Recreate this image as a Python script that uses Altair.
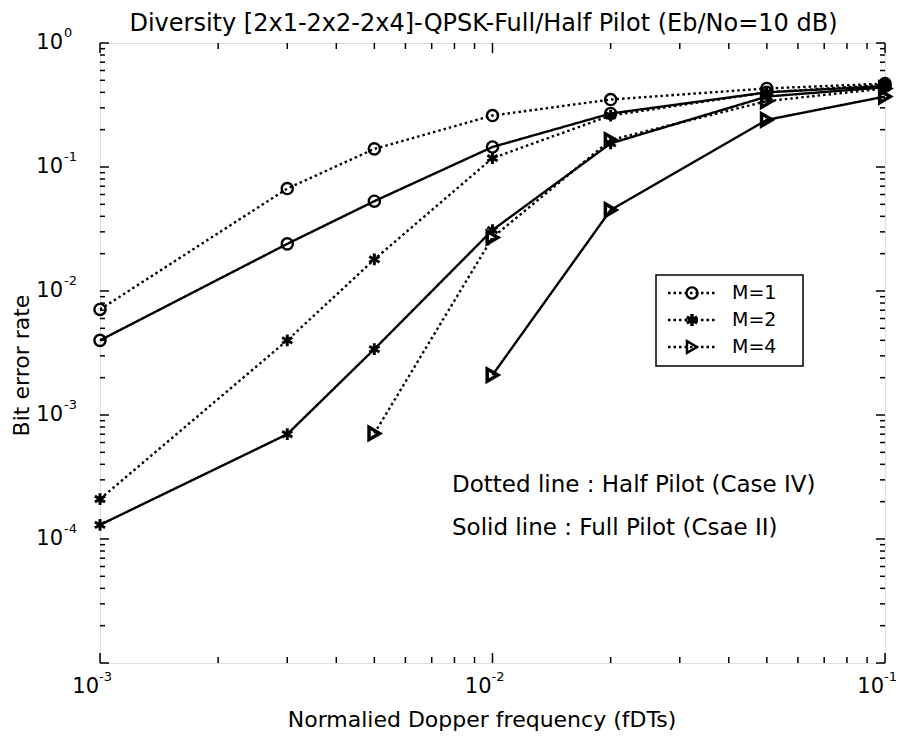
import altair as alt
import pandas as pd

# ---------------- data ----------------
freq = [0.001, 0.003, 0.005, 0.01, 0.02, 0.05, 0.1]
m1_half = [7.1e-3, 0.067, 0.14, 0.26, 0.35, 0.43, 0.47]
m1_full = [4.0e-3, 0.024, 0.053, 0.145, 0.27, 0.40, 0.45]
m2_half = [2.1e-4, 4.0e-3, 0.018, 0.118, 0.26, 0.40, 0.46]
m2_full = [1.3e-4, 7.0e-4, 3.4e-3, 0.031, 0.155, 0.37, 0.44]
m4_half = [None, None, 7.1e-4, 0.027, 0.165, 0.34, 0.43]
m4_full = [None, None, None, 2.1e-3, 0.045, 0.24, 0.37]

m_labels = ["M=1", "M=2", "M=4"]
pilot_labels = ["Half", "Full"]

x_label_vals = [1e-3, 1e-2, 1e-1]
x_label_exp = ["-3", "-2", "-1"]
y_label_vals = [1.0, 1e-1, 1e-2, 1e-3, 1e-4]
y_label_exp = ["0", "-1", "-2", "-3", "-4"]

title_text = "Diversity [2x1-2x2-2x4]-QPSK-Full/Half Pilot (Eb/No=10 dB)"
x_title = "Normalied Dopper frequency (fDTs)"
y_title = "Bit error rate"
note_dotted = "Dotted line : Half Pilot (Case IV)"
note_solid = "Solid line : Full Pilot (Csae II)"

# ---------------- tables ----------------
series = [
    ("M=1", "Half", m1_half), ("M=1", "Full", m1_full),
    ("M=2", "Half", m2_half), ("M=2", "Full", m2_full),
    ("M=4", "Half", m4_half), ("M=4", "Full", m4_full),
]
rows = []
for m, p, vals in series:
    for f, v in zip(freq, vals):
        if v is not None:
            rows.append({"freq": f, "ber": v, "M": m, "pilot": p, "series": m + p})
df = pd.DataFrame(rows)

W, H = 785, 620
FONT = "DejaVu Sans"
STAR = "M0,-1L0,1M-0.87,-0.5L0.87,0.5M-0.87,0.5L0.87,-0.5"
shape_range = ["circle", STAR, "triangle-right"]
DOT = [2.5, 3]

xs = alt.Scale(type="log", domain=[1e-3, 1e-1], nice=False)
ys = alt.Scale(type="log", domain=[1e-5, 1], nice=False)

X = alt.X("freq:Q", scale=xs, axis=alt.Axis(title=x_title, labels=False, ticks=False, domain=False,
                                           grid=False, titlePadding=46, titleFontSize=22,
                                           titleFont=FONT, titleFontWeight="normal", titleX=W / 2 - 11))
Y = alt.Y("ber:Q", scale=ys, axis=alt.Axis(title=y_title, labels=False, ticks=False, domain=False,
                                          grid=False, titlePadding=67, titleFontSize=22,
                                          titleFont=FONT, titleFontWeight="normal", titleY=H / 2 + 12))

base = alt.Chart(df)

lines = base.mark_line(color="black", strokeWidth=2.4).encode(
    x=X, y=Y, detail="series:N",
    strokeDash=alt.StrokeDash("pilot:N", scale=alt.Scale(domain=pilot_labels, range=[DOT, [1, 0]]),
                              legend=None),
)
points = base.mark_point(filled=False, color="black", opacity=1).encode(
    x="freq:Q", y="ber:Q",
    shape=alt.Shape("M:N", scale=alt.Scale(domain=m_labels, range=shape_range), legend=None),
    size=alt.Size("M:N", scale=alt.Scale(domain=m_labels, range=[125, 150, 135]), legend=None),
    strokeWidth=alt.StrokeWidth("M:N", scale=alt.Scale(domain=m_labels, range=[2.4, 3.5, 2.4]), legend=None),
)

# ---------------- ticks (inward, all four sides) ----------------
x_major = x_label_vals
x_minor = [m * 10.0 ** k for k in (-3, -2) for m in range(2, 10)]
y_major = [10.0 ** k for k in range(-5, 1)]
y_minor = [m * 10.0 ** k for k in range(-5, 0) for m in range(2, 10)]

def xticks(vals, length):
    d = pd.DataFrame({"freq": vals})
    bot = alt.Chart(d).mark_rule(color="black", strokeWidth=1.5).encode(
        x="freq:Q", y=alt.value(H), y2=alt.value(H - length))
    top = alt.Chart(d).mark_rule(color="black", strokeWidth=1.5).encode(
        x="freq:Q", y=alt.value(0), y2=alt.value(length))
    return [bot, top]

def yticks(vals, length):
    d = pd.DataFrame({"ber": vals})
    left = alt.Chart(d).mark_rule(color="black", strokeWidth=1.5).encode(
        y="ber:Q", x=alt.value(0), x2=alt.value(length))
    right = alt.Chart(d).mark_rule(color="black", strokeWidth=1.5).encode(
        y="ber:Q", x=alt.value(W), x2=alt.value(W - length))
    return [left, right]

tick_layers = xticks(x_major, 10) + xticks(x_minor, 6) + yticks(y_major, 9) + yticks(y_minor, 5)

# ---------------- tick labels (10 with superscript) ----------------
xl = pd.DataFrame({"freq": x_label_vals, "exp": x_label_exp})
x_base = alt.Chart(xl).mark_text(text="10", align="right", baseline="middle", fontSize=21, font=FONT, dx=-1).encode(
    x="freq:Q", y=alt.value(H + 24))
x_exp = alt.Chart(xl).mark_text(align="left", baseline="middle", fontSize=13, font=FONT, dx=-1).encode(
    x="freq:Q", y=alt.value(H + 14), text="exp:N")

yl = pd.DataFrame({"ber": y_label_vals, "exp": y_label_exp})
y_base = alt.Chart(yl).mark_text(text="10", align="right", baseline="middle", fontSize=21, font=FONT).encode(
    y="ber:Q", x=alt.value(-37))
y_exp = alt.Chart(yl).mark_text(align="left", baseline="middle", fontSize=13, font=FONT, dy=-10).encode(
    y="ber:Q", x=alt.value(-36), text="exp:N")

# ---------------- title & annotations ----------------
def label(txt, x, y, size, align="left"):
    return alt.Chart(pd.DataFrame({"t": [txt]})).mark_text(
        align=align, baseline="middle", fontSize=size, font=FONT).encode(
        text="t:N", x=alt.value(x), y=alt.value(y))

texts = [
    label(title_text, W / 2 - 9, -19, 24, align="center"),
    label(note_dotted, 352, 442, 23),
    label(note_solid, 352, 485, 23),
]

# ---------------- manual legend ----------------
LX0, LX1, LY0, LY1 = 556, 703, 232, 323
legend_layers = [
    alt.Chart(pd.DataFrame({"a": [0]})).mark_rect(fill="white", stroke="black", strokeWidth=1.5).encode(
        x=alt.value(LX0), x2=alt.value(LX1), y=alt.value(LY0), y2=alt.value(LY1))
]
leg_sizes = [125, 150, 135]
leg_widths = [2.4, 3.5, 2.4]
for i, lab in enumerate(m_labels):
    ry = 250 + i * 27
    d = pd.DataFrame({"label": [lab]})
    legend_layers.append(alt.Chart(d).mark_rule(color="black", strokeWidth=2.4, strokeDash=DOT).encode(
        x=alt.value(568), x2=alt.value(616), y=alt.value(ry)))
    legend_layers.append(alt.Chart(d).mark_point(filled=False, color="black", strokeWidth=leg_widths[i],
                                                 size=leg_sizes[i], shape=shape_range[i], opacity=1).encode(
        x=alt.value(592), y=alt.value(ry)))
    legend_layers.append(alt.Chart(d).mark_text(align="left", baseline="middle", fontSize=19, font=FONT).encode(
        text="label:N", x=alt.value(632), y=alt.value(ry)))

chart = alt.layer(
    *tick_layers, lines, points, x_base, x_exp, y_base, y_exp, *texts, *legend_layers
).properties(
    width=W, height=H,
    autosize=alt.AutoSizeParams(type="none"),
    padding={"left": 92, "top": 35, "right": 16, "bottom": 70},
).configure_view(stroke="black", strokeWidth=2).configure(background="white")

chart.save("out.html", embed_options={"renderer": "svg", "actions": False})
